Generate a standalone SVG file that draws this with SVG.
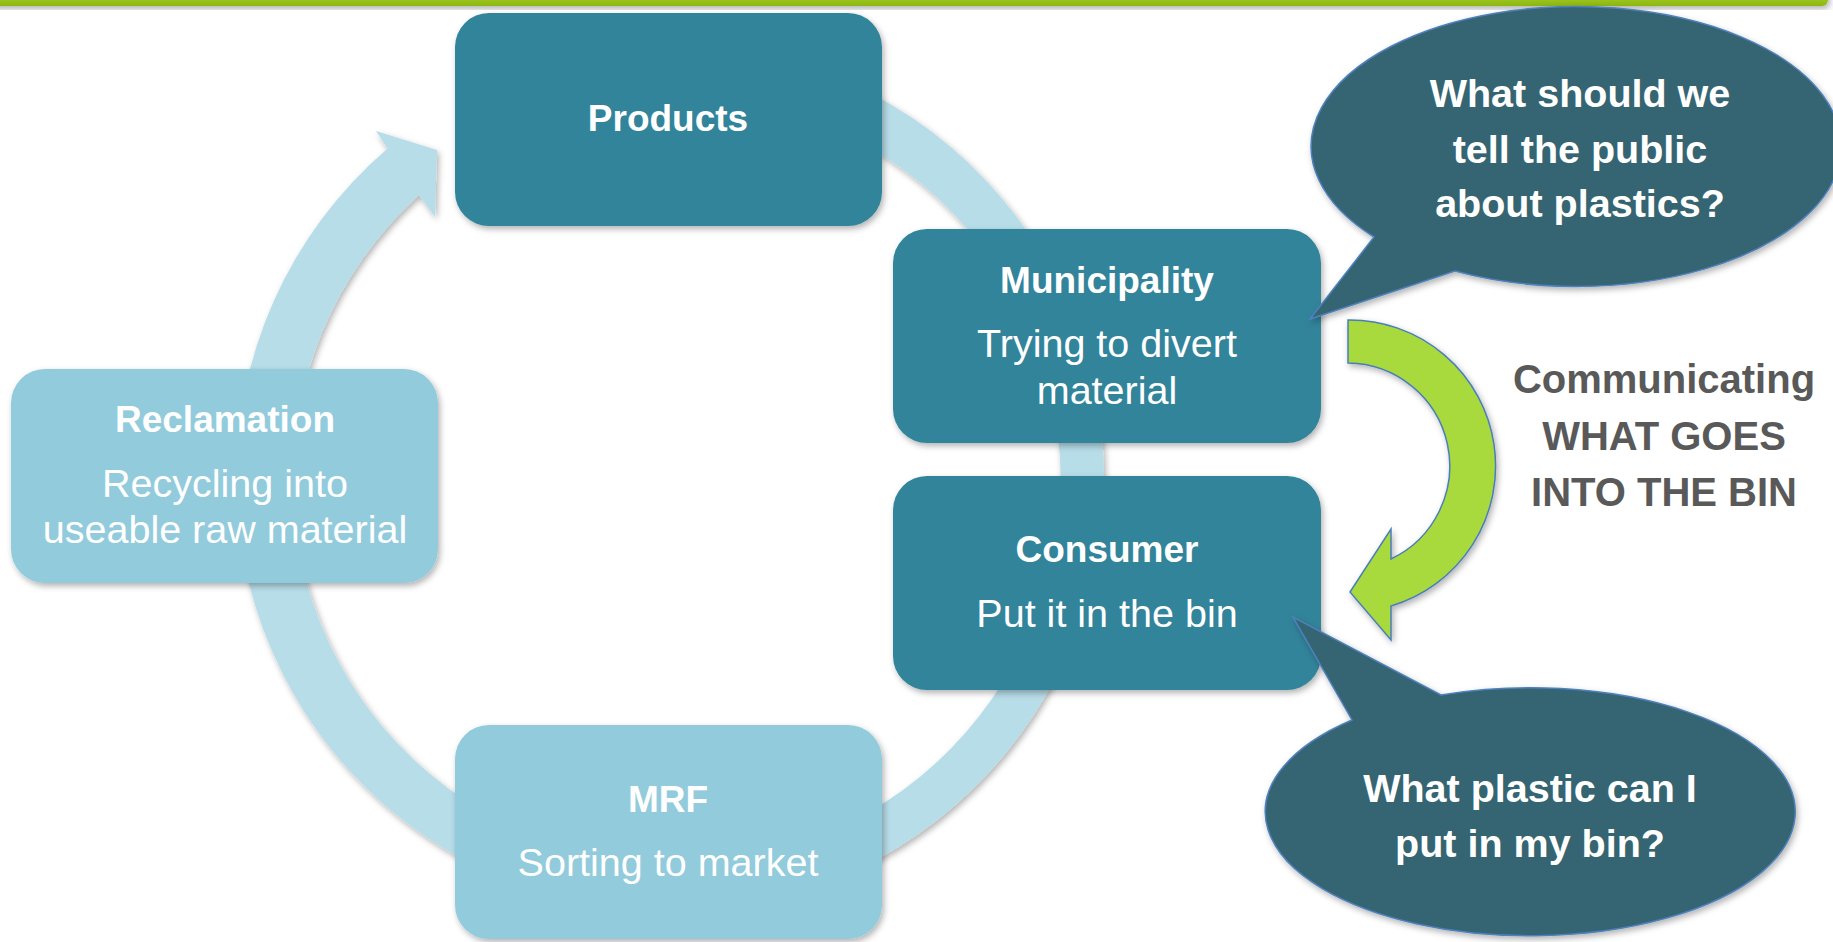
<svg xmlns="http://www.w3.org/2000/svg" width="1833" height="942" viewBox="0 0 1833 942">
<defs>
<style>
.dark{fill:#31849B}
.light{fill:#92CBDC}
.t{font-family:"Liberation Sans",Arial,sans-serif;fill:#FFFFFF;text-anchor:middle}
.b{font-weight:bold;font-size:37px}
.r{font-size:39.5px}
.q{font-family:"Liberation Sans",Arial,sans-serif;fill:#FFFFFF;text-anchor:middle;font-weight:bold;font-size:39.5px}
.g{font-family:"Liberation Sans",Arial,sans-serif;fill:#595959;text-anchor:middle;font-weight:bold;font-size:40px}
.bubble{fill:#366572;stroke:#4F81BD;stroke-width:1.5}
</style>
<filter id="sh" x="-10%" y="-10%" width="125%" height="130%">
<feDropShadow dx="2" dy="3" stdDeviation="3" flood-color="#000" flood-opacity="0.3"/>
</filter>
<linearGradient id="bar" x1="0" y1="0" x2="0" y2="1">
<stop offset="0" stop-color="#B2D63E"/>
<stop offset="1" stop-color="#8CB70F"/>
</linearGradient>
</defs>
<rect x="-10" y="-10" width="1838" height="16" rx="6" fill="url(#bar)" filter="url(#sh)"/>
<g id="connectors">
<path id="cycle-ring" d="M 782.3 58.8 A 434 434 0 1 1 387.6 148.5 L 376 131 L 437 150 L 435 217 L 419 195 A 384 384 0 1 0 769.4 107.1 Z" fill="#B7DDE8" filter="url(#sh)"/>
<path id="green-arrow" d="M 1348 320 A 146 146 0 0 1 1391 606 L 1391 640 L 1350 592 L 1391 529 L 1391 559 A 103 103 0 0 0 1348 363 Z" fill="#A9DA3C" stroke="#4A7EBB" stroke-width="1.5" filter="url(#sh)"/>
</g>
<g id="products">
<rect class="dark" x="455" y="13" width="427" height="213" rx="34" filter="url(#sh)"/>
<text class="t b" x="668" y="131">Products</text>
</g>
<g id="municipality">
<rect class="dark" x="893" y="229" width="428" height="214" rx="34" filter="url(#sh)"/>
<text class="t b" x="1107" y="293">Municipality</text>
<text class="t r" x="1107" y="357">Trying to divert</text>
<text class="t r" x="1107" y="404">material</text>
</g>
<g id="consumer">
<rect class="dark" x="893" y="476" width="428" height="214" rx="34" filter="url(#sh)"/>
<text class="t b" x="1107" y="562">Consumer</text>
<text class="t r" x="1107" y="627">Put it in the bin</text>
</g>
<g id="mrf">
<rect class="light" x="455" y="725" width="427" height="214" rx="34" filter="url(#sh)"/>
<text class="t b" x="668" y="812">MRF</text>
<text class="t r" x="668" y="876">Sorting to market</text>
</g>
<g id="reclamation">
<rect class="light" x="11" y="369" width="427" height="214" rx="34" filter="url(#sh)"/>
<text class="t b" x="225" y="432">Reclamation</text>
<text class="t r" x="225" y="497">Recycling into</text>
<text class="t r" x="225" y="543">useable raw material</text>
</g>
<g id="bubble-public">
<path class="bubble" d="M 1455 271 L 1310 319 L 1374 237 A 265 140 0 1 1 1455 271 Z" filter="url(#sh)"/>
<text class="q" x="1580" y="107">What should we</text>
<text class="q" x="1580" y="163">tell the public</text>
<text class="q" x="1580" y="217">about plastics?</text>
</g>
<g id="bubble-bin">
<path class="bubble" d="M 1352 720 L 1293 617 L 1441 695 A 265 124 0 1 1 1352 720 Z" filter="url(#sh)"/>
<text class="q" x="1530" y="802">What plastic can I</text>
<text class="q" x="1530" y="857">put in my bin?</text>
</g>
<g id="communicating">
<text class="g" x="1664" y="393">Communicating</text>
<text class="g" x="1664" y="450">WHAT GOES</text>
<text class="g" x="1664" y="506">INTO THE BIN</text>
</g>
</svg>
